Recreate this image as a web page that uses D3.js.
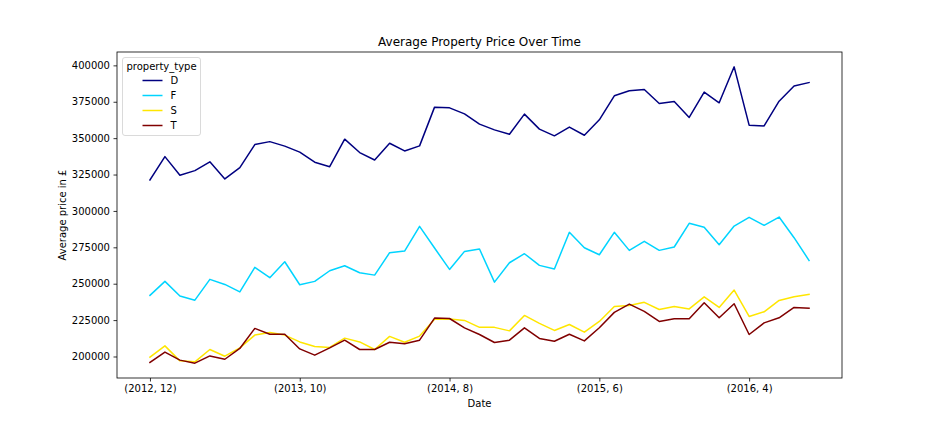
<!DOCTYPE html>
<html>
<head>
<meta charset="utf-8">
<script src="https://cdn.jsdelivr.net/npm/d3@7"></script>
<style>
  body { margin: 0; background: #fff; }
  text { font-family: "DejaVu Sans", sans-serif; fill: #000; }
</style>
</head>
<body>
<script>
// categories (year, month)
var dates = ["(2012, 12)",
  "(2013, 1)","(2013, 2)","(2013, 3)","(2013, 4)","(2013, 5)","(2013, 6)","(2013, 7)","(2013, 8)","(2013, 9)","(2013, 10)","(2013, 11)","(2013, 12)",
  "(2014, 1)","(2014, 2)","(2014, 3)","(2014, 4)","(2014, 5)","(2014, 6)","(2014, 7)","(2014, 8)","(2014, 9)","(2014, 10)","(2014, 11)","(2014, 12)",
  "(2015, 1)","(2015, 2)","(2015, 3)","(2015, 4)","(2015, 5)","(2015, 6)","(2015, 7)","(2015, 8)","(2015, 9)","(2015, 10)","(2015, 11)","(2015, 12)",
  "(2016, 1)","(2016, 2)","(2016, 3)","(2016, 4)","(2016, 5)","(2016, 6)","(2016, 7)","(2016, 8)"];

var xTickLabels = ["(2012, 12)", "(2013, 10)", "(2014, 8)", "(2015, 6)", "(2016, 4)"];
var yTicks = [200000, 225000, 250000, 275000, 300000, 325000, 350000, 375000, 400000];

var seriesNames = ["D", "F", "S", "T"];
var seriesColors = ["#000080", "#00d4ff", "#ffe600", "#800000"];

var detached = [321300, 337300, 324500, 327700, 333700, 322000, 329800, 345600, 347600, 344500,
  340400, 333500, 330400, 349300, 340100, 335000, 346500, 341200, 344700, 371300,
  370800, 366700, 359600, 355700, 352700, 366500, 356200, 351600, 357600, 352000,
  362600, 379100, 382500, 383400, 373800, 375200, 364200, 381600, 374300, 399000,
  358900, 358400, 375400, 385800, 388200];
var flat = [242000, 251600, 241500, 238700, 253000, 249500, 244400, 261200, 254100, 265100,
  249300, 251600, 258900, 262300, 257500, 255900, 271300, 272400, 289400, 274500,
  259800, 272200, 273800, 251100, 264400, 270600, 262600, 260100, 285300, 274700,
  269900, 285300, 272900, 279100, 272900, 275200, 291500, 288800, 276800, 289600,
  295600, 290100, 295800, 281600, 266000];
var semi = [199500, 207300, 197000, 196300, 204800, 200200, 205900, 214700, 216500, 214700,
  210000, 206900, 206200, 212600, 210000, 204800, 213800, 209800, 214000, 225500,
  225700, 224800, 220000, 220000, 217600, 228200, 222700, 217900, 222000, 216700,
  224100, 234400, 235100, 237200, 232300, 234400, 232700, 241000, 233700, 245600,
  227500, 230700, 238500, 241000, 242700];
var terraced = [195900, 203000, 197500, 195400, 200400, 198100, 205500, 219300, 215300, 215300,
  205200, 200900, 205900, 211200, 204800, 204800, 209800, 208700, 211200, 226400,
  226100, 219700, 215100, 209600, 211200, 219700, 212400, 210500, 215300, 210700,
  219700, 230300, 236000, 231000, 224100, 225900, 225900, 236900, 226600, 236200,
  215100, 223100, 226600, 233700, 233200];

var allSeries = [detached, flat, semi, terraced];

var W = 936, H = 432;
var plot = {left: 117, right: 842, top: 52, bottom: 378};

var svg = d3.select("body").append("svg")
  .attr("width", W).attr("height", H);

// scales, matplotlib style 5% padding
var n = dates.length;
var xPad = (n - 1) * 0.05;
var x = d3.scaleLinear()
  .domain([-xPad, n - 1 + xPad])
  .range([plot.left, plot.right]);

var allVals = [].concat.apply([], allSeries);
var vMin = d3.min(allVals), vMax = d3.max(allVals);
var yPad = (vMax - vMin) * 0.05;
var y = d3.scaleLinear()
  .domain([vMin - yPad, vMax + yPad])
  .range([plot.bottom, plot.top]);

// axes
var xTickIdx = xTickLabels.map(function(l){ return dates.indexOf(l); });
var xAxis = d3.axisBottom(x)
  .tickValues(xTickIdx)
  .tickFormat(function(d){ return dates[d]; })
  .tickSizeInner(3.5).tickSizeOuter(0).tickPadding(3.5);
var yAxis = d3.axisLeft(y)
  .tickValues(yTicks)
  .tickFormat(d3.format("d"))
  .tickSizeInner(3.5).tickSizeOuter(0).tickPadding(3.5);

var gx = svg.append("g")
  .attr("transform", "translate(0," + plot.bottom + ")")
  .call(xAxis);
var gy = svg.append("g")
  .attr("transform", "translate(" + plot.left + ",0)")
  .call(yAxis);
[gx, gy].forEach(function(g){
  g.select(".domain").remove();
  g.selectAll("line").attr("stroke", "#000").attr("stroke-width", 0.8);
  g.selectAll("text").style("font-size", "10px").attr("fill", "#000")
    .style("font-family", "DejaVu Sans, sans-serif");
});

// lines
var line = d3.line()
  .x(function(d, i){ return x(i); })
  .y(function(d){ return y(d); });

svg.selectAll("path.series").data(allSeries)
  .enter().append("path")
  .attr("class", "series")
  .attr("d", line)
  .attr("fill", "none")
  .attr("stroke", function(d, i){ return seriesColors[i]; })
  .attr("stroke-width", 1.5)
  .attr("stroke-linejoin", "round")
  .attr("stroke-linecap", "square");

// frame
svg.append("rect")
  .attr("x", plot.left).attr("y", plot.top)
  .attr("width", plot.right - plot.left)
  .attr("height", plot.bottom - plot.top)
  .attr("fill", "none").attr("stroke", "#000").attr("stroke-width", 0.8);

// title + labels
svg.append("text")
  .attr("x", (plot.left + plot.right) / 2).attr("y", 46)
  .attr("text-anchor", "middle")
  .style("font-size", "12px")
  .text("Average Property Price Over Time");

svg.append("text")
  .attr("x", (plot.left + plot.right) / 2).attr("y", 407)
  .attr("text-anchor", "middle")
  .style("font-size", "10px")
  .text("Date");

svg.append("text")
  .attr("transform", "translate(66," + ((plot.top + plot.bottom) / 2) + ") rotate(-90)")
  .attr("text-anchor", "middle")
  .style("font-size", "10px")
  .text("Average price in £");

// legend
var lg = svg.append("g").attr("transform", "translate(122.5,57.5)");
lg.append("rect")
  .attr("width", 78).attr("height", 78).attr("rx", 2.5)
  .attr("fill", "#fff").attr("fill-opacity", 0.8)
  .attr("stroke", "#d0d0d0").attr("stroke-width", 0.8);
lg.append("text")
  .attr("x", 39).attr("y", 12)
  .attr("text-anchor", "middle")
  .style("font-size", "10px")
  .text("property_type");
seriesNames.forEach(function(name, i){
  var cy = 23 + i * 15;
  lg.append("line")
    .attr("x1", 20).attr("x2", 40)
    .attr("y1", cy).attr("y2", cy)
    .attr("stroke", seriesColors[i]).attr("stroke-width", 1.5);
  lg.append("text")
    .attr("x", 48).attr("y", cy + 3.5)
    .style("font-size", "10px")
    .text(name);
});
</script>
</body>
</html>
